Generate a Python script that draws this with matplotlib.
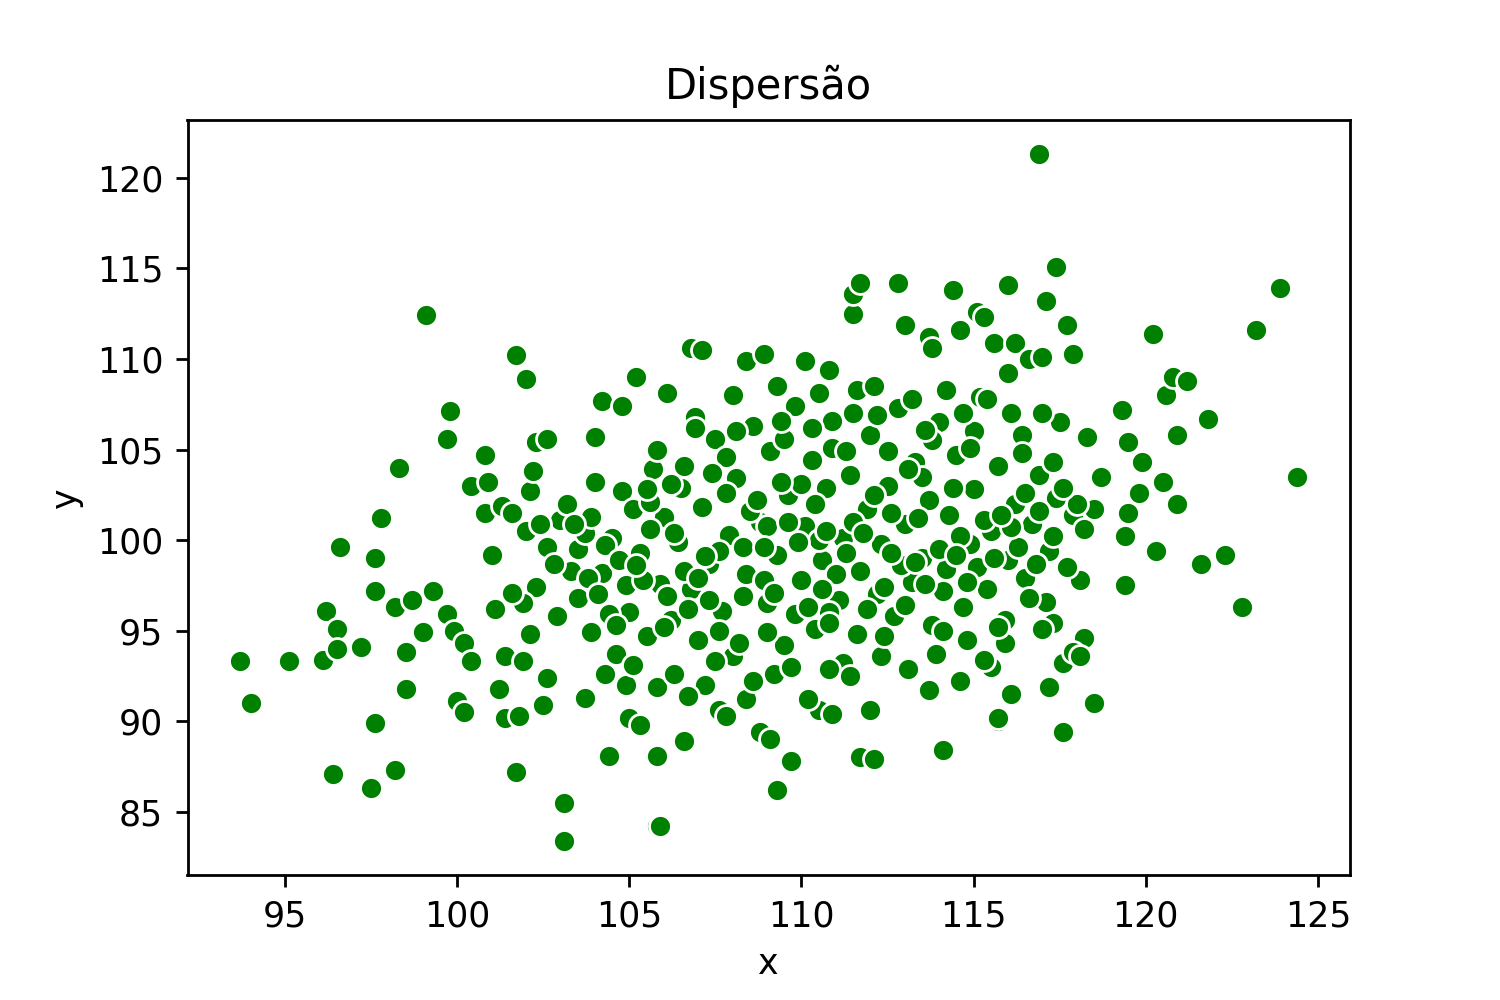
import matplotlib
matplotlib.use('Agg')
import matplotlib.pyplot as plt

# points (outer points, then the dense core)
x_outer = [93.7, 94.0, 95.1, 96.1, 96.2, 96.5, 96.5, 96.6, 96.4, 97.2, 97.5, 97.6, 97.6, 97.6, 97.8, 98.2, 98.2, 98.3,
           98.5, 98.5, 98.7, 99.0, 99.1, 99.3, 99.7, 99.7, 99.8, 99.9, 100.0, 100.2, 100.2, 100.4, 100.4, 100.8, 100.8,
           100.9, 101.0, 101.1, 101.2, 101.3, 101.4, 101.4, 101.6, 101.7, 101.7, 101.8, 101.9, 102.0, 102.0, 102.1,
           102.2, 102.3, 102.6, 102.5, 102.6, 103.1, 103.1, 103.0, 103.5, 103.7, 104.0, 104.2, 104.4, 104.8, 105.0,
           105.2, 105.3, 105.8, 105.9, 105.8, 106.1, 106.6, 106.8, 107.1, 107.6, 107.8, 108.4, 108.4, 108.8, 108.9,
           109.1, 109.3, 109.7, 110.1, 110.5, 110.8, 110.9, 111.5, 111.5, 111.7, 111.7, 112.0, 112.1, 112.8, 113.0,
           113.7, 113.8, 114.1, 114.4, 114.6, 114.6, 115.1, 115.3, 115.6, 115.7, 115.7, 116.0, 116.1, 116.0, 116.2,
           116.6, 116.9, 117.0, 117.1, 117.4, 117.6, 117.7, 117.9, 118.2, 118.3, 118.5, 118.7, 119.3, 119.4, 119.4,
           119.5, 119.5, 119.8, 119.9, 120.2, 120.3, 120.5, 120.6, 120.8, 120.9, 120.9, 121.2, 121.6, 121.8, 122.3,
           122.8, 123.2, 123.9, 124.4, 117.2, 117.6, 117.9, 118.1, 118.1, 117.3, 115.5, 115.3, 114.8, 113.7, 113.1,
           112.3, 111.2, 110.8, 110.2, 109.2, 108.0, 107.2, 106.7, 105.8, 104.9, 104.3]
y_outer = [93.3, 91.0, 93.3, 93.4, 96.1, 95.1, 94.0, 99.6, 87.1, 94.1, 86.3, 89.9, 97.2, 99.0, 101.2, 96.3, 87.3, 104.0,
           93.8, 91.8, 96.7, 94.9, 112.4, 97.2, 95.9, 105.6, 107.1, 95.0, 91.1, 90.5, 94.3, 93.3, 103.0, 101.5, 104.7,
           103.2, 99.2, 96.2, 91.8, 101.9, 93.6, 90.2, 101.5, 110.2, 87.2, 90.3, 93.3, 100.5, 108.9, 102.7,
           103.8, 105.4, 105.6, 90.9, 92.4, 85.5, 83.4, 101.1, 99.5, 91.3, 105.7, 107.7, 88.1, 107.4, 90.2,
           109.0, 89.8, 84.2, 84.2, 88.1, 108.1, 88.9, 110.6, 110.5, 90.6, 90.3, 91.2, 109.9, 89.4, 110.3,
           89.0, 86.2, 87.8, 109.9, 90.6, 109.4, 90.4, 112.5, 113.6, 114.2, 88.0, 90.6, 87.9, 114.2, 111.9,
           111.2, 110.6, 88.4, 113.8, 92.2, 111.6, 112.6, 112.3, 110.9, 90.0, 90.2, 114.1, 91.5, 109.2, 110.9,
           110.0, 121.3, 110.1, 113.2, 115.1, 89.4, 111.9, 110.3, 94.6, 105.7, 91.0, 103.5, 107.2, 97.5, 100.2,
           101.5, 105.4, 102.6, 104.3, 111.4, 99.4, 103.2, 108.0, 109.0, 102.0, 105.8, 108.8, 98.7, 106.7, 99.2,
           96.3, 111.6, 113.9, 103.5, 91.9, 93.2, 93.8, 97.8, 93.6, 95.4, 93.0, 93.4, 94.5, 91.7, 92.9,
           93.6, 93.2, 92.9, 91.2, 92.6, 93.6, 92.0, 91.4, 91.9, 92.0, 92.6]

x_core = [103.5, 103.9, 104.2, 104.5, 104.8, 105.0, 105.3, 105.5, 105.7, 105.9, 106.0, 106.2, 106.4, 106.6, 106.8,
          107.0, 107.1, 107.3, 107.5, 107.7, 107.9, 108.1, 108.2, 108.4, 108.6, 108.8, 109.0, 109.1, 109.3, 109.5,
          109.6, 109.8, 110.0, 110.1, 110.3, 110.4, 110.6, 110.7, 110.9, 111.1, 111.2, 111.4, 111.6, 111.7, 111.9,
          112.0, 112.2, 112.3, 112.5, 112.7, 112.8, 113.0, 113.2, 113.3, 113.5, 113.7, 113.8, 114.0, 114.2, 114.3,
          114.5, 114.7, 114.9, 115.0, 115.2, 115.4, 115.5, 115.7, 115.9, 116.0, 116.2, 116.4, 116.5, 116.7, 116.9,
          117.1, 117.2, 117.4, 117.5, 117.7, 117.9, 118.2, 118.5, 102.3, 102.6, 102.9, 103.2, 102.1, 102.4, 101.9,
          101.6, 104.0, 103.7, 104.6, 105.1, 106.3, 107.5, 108.6, 109.7, 111.4, 113.9, 115.9, 116.6, 104.3, 105.8,
          106.9, 108.0, 109.3, 110.5, 111.6, 112.1, 113.2, 114.2, 115.0, 116.1, 117.0, 110.0, 110.5, 109.0, 108.3,
          111.5, 112.6, 113.5, 114.6, 107.6, 106.6, 105.6, 106.1, 107.0, 108.9, 109.8, 110.8, 111.9, 113.0, 114.1,
          115.1, 116.3, 117.3, 118.0, 104.9, 103.9, 109.5, 110.9, 112.5, 113.8, 114.9, 107.8, 106.5, 105.1,
          103.3, 103.8, 104.4, 104.7, 105.4, 105.6, 106.3, 106.7, 107.2, 107.4, 107.8, 108.3, 108.5, 108.9, 109.2,
          109.4, 109.9, 110.2, 110.4, 110.7, 111.0, 111.3, 111.8, 112.1, 112.4, 112.9, 113.1, 113.4, 113.6, 114.0,
          114.4, 114.8, 115.3, 115.6, 116.1, 116.5, 116.8, 117.3, 117.6, 102.8, 103.4, 104.1, 105.2, 106.2, 107.3,
          108.7, 109.6, 110.6, 111.3, 112.6, 113.3, 114.5, 115.8, 116.9, 105.5, 106.9, 108.1, 109.4, 110.3, 111.5,
          112.2, 113.6, 114.7, 115.4, 116.4, 104.6, 106.0, 107.6, 109.0, 110.8, 112.4, 114.1, 115.7, 117.0]
y_core = [96.8, 94.9, 98.2, 100.1, 102.7, 96.0, 99.3, 94.7, 103.9, 97.6, 101.3, 95.6, 99.9, 104.1, 97.3,
          94.5, 101.8, 98.7, 105.6, 96.1, 100.3, 103.4, 94.3, 98.1, 106.3, 101.0, 96.5, 104.9, 99.2, 94.2,
          102.5, 107.4, 97.8, 100.8, 104.4, 95.1, 98.9, 102.9, 106.6, 96.7, 100.1, 103.6, 94.8, 98.3, 101.7,
          105.8, 97.0, 99.8, 103.0, 95.8, 107.3, 100.9, 97.7, 104.3, 99.0, 102.2, 95.3, 106.5, 98.4, 101.4,
          104.7, 96.3, 99.8, 102.8, 107.9, 97.3, 100.5, 104.1, 95.6, 98.9, 102.0, 105.8, 97.9, 100.9, 103.6,
          96.6, 99.4, 102.3, 106.5, 98.5, 101.4, 100.6, 101.7, 97.4, 99.6, 95.8, 102.0, 94.8, 100.9, 96.5,
          97.1, 103.2, 100.4, 93.7, 93.1, 92.6, 93.3, 92.2, 93.0, 92.5, 93.7, 94.3, 96.8, 99.7, 105.0,
          106.8, 108.0, 108.5, 108.1, 108.3, 108.5, 107.8, 108.3, 106.0, 107.0, 107.0, 103.1, 100.0, 100.8, 99.6,
          101.0, 101.5, 103.5, 100.2, 99.4, 98.3, 100.6, 96.9, 97.9, 97.8, 95.9, 96.0, 96.2, 96.4, 97.2,
          98.5, 99.6, 104.3, 102.0, 97.5, 101.3, 105.6, 105.1, 104.9, 105.5, 105.1, 104.6, 102.9, 101.7,
          98.3, 97.9, 95.9, 98.9, 97.8, 102.1, 100.4, 96.2, 99.1, 103.7, 102.6, 96.9, 101.6, 99.6, 97.1,
          103.2, 99.9, 96.3, 102.0, 100.5, 98.1, 104.9, 100.4, 102.5, 97.4, 98.6, 103.9, 101.2, 97.6, 99.5,
          102.9, 97.7, 101.1, 99.0, 100.7, 102.6, 98.7, 100.2, 102.9, 98.7, 100.9, 97.0, 98.6, 103.1, 96.7,
          102.2, 101.0, 97.3, 99.3, 99.3, 98.8, 99.2, 101.4, 101.6, 102.8, 106.2, 106.0, 106.6, 106.2, 107.0,
          106.9, 106.1, 107.0, 107.8, 104.8, 95.3, 95.2, 95.0, 94.9, 95.4, 94.7, 95.0, 95.2, 95.1]

x = x_outer + x_core
y = y_outer + y_core

fig, ax = plt.subplots(figsize=(6, 4), dpi=250)
fig.subplots_adjust(bottom=0.125)
ax.scatter(x, y, s=40, color='green', edgecolors='white', linewidths=0.8)
ax.set_title('Dispersão')
ax.set_xlabel('x')
ax.set_ylabel('y')
fig.savefig('out.png')
